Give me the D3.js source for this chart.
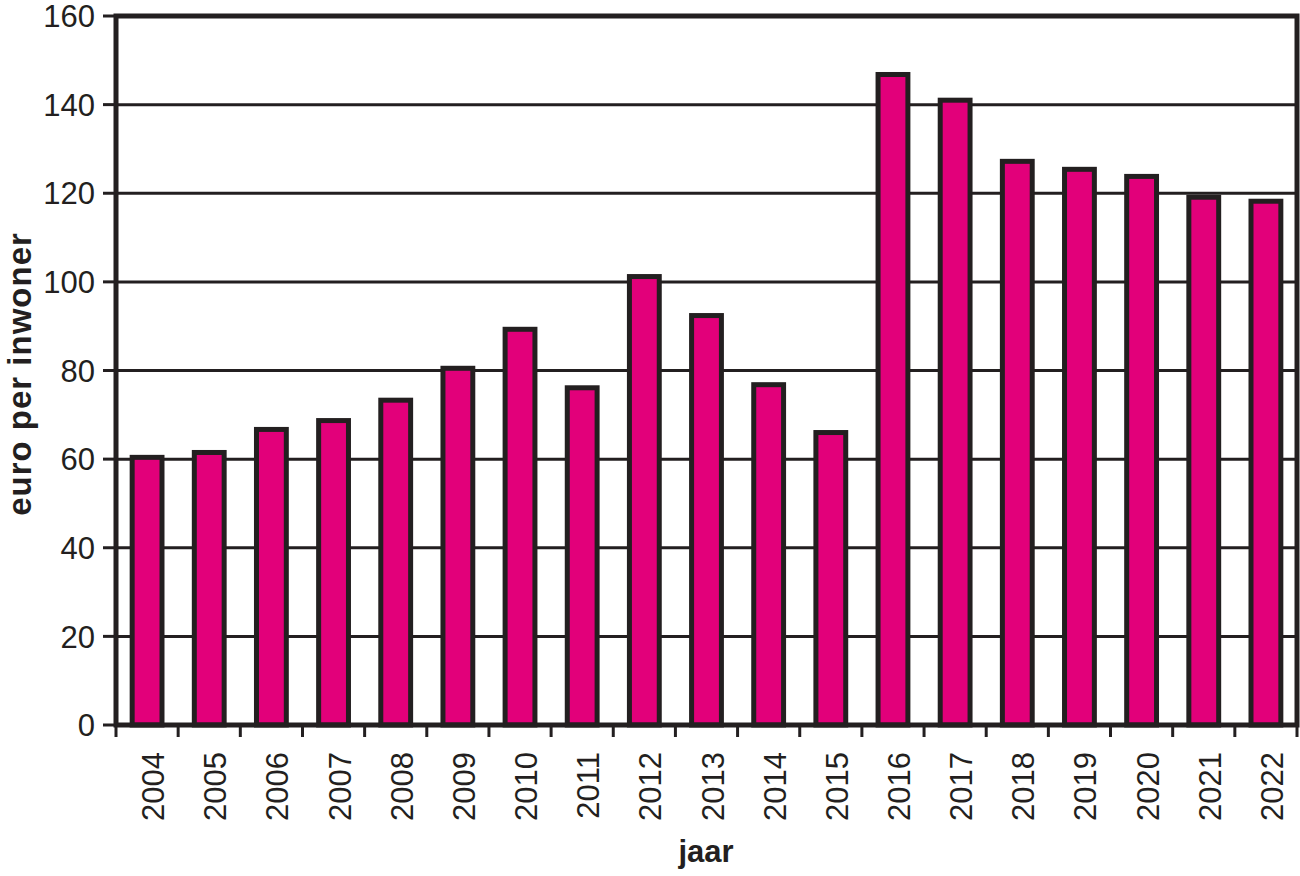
<!DOCTYPE html>
<html>
<head>
<meta charset="utf-8">
<script src="https://cdn.jsdelivr.net/npm/d3@7"></script>
<style>
  html, body { margin: 0; padding: 0; background: #fff; }
  svg { display: block; }
  text { font-family: "Liberation Sans", Arial, Helvetica, sans-serif; fill: #231f20; }
</style>
</head>
<body>
<svg id="chart" width="1300" height="876"></svg>
<script>
const years = ["2004","2005","2006","2007","2008","2009","2010","2011","2012","2013","2014","2015","2016","2017","2018","2019","2020","2021","2022"];
const values = [60.4, 61.5, 66.7, 68.7, 73.3, 80.5, 89.3, 76.1, 101.2, 92.4, 76.8, 66.0, 146.8, 141.0, 127.2, 125.4, 123.8, 119.1, 118.2];
const yTicks = [0, 20, 40, 60, 80, 100, 120, 140, 160];
const xTitle = "jaar";
const yTitle = "euro per inwoner";

const ink = "#231f20";
const barFill = "#e2007a";
const L = 116, R = 1297, T = 16, B = 725;

const svg = d3.select("#chart");

const x = d3.scaleBand().domain(years).range([L, R]).paddingInner(0.52).paddingOuter(0.26);
const y = d3.scaleLinear().domain([0, 160]).range([B, T]);

// gridlines
svg.append("g").selectAll("line").data(yTicks.filter(t => t > 0 && t < 160)).join("line")
  .attr("x1", L).attr("x2", R).attr("y1", d => y(d)).attr("y2", d => y(d))
  .attr("stroke", ink).attr("stroke-width", 3);

// y tick marks
svg.append("g").selectAll("line").data(yTicks).join("line")
  .attr("x1", L - 13).attr("x2", L).attr("y1", d => y(d)).attr("y2", d => y(d))
  .attr("stroke", ink).attr("stroke-width", 3);

// y tick labels
svg.append("g").selectAll("text").data(yTicks).join("text")
  .attr("x", L - 21).attr("y", d => y(d)).attr("dy", "0.36em")
  .attr("text-anchor", "end").attr("font-size", 31)
  .text(d => d);

// bars
svg.append("g").selectAll("rect").data(years).join("rect")
  .attr("x", d => x(d)).attr("width", x.bandwidth())
  .attr("y", (d, i) => y(values[i])).attr("height", (d, i) => y(0) - y(values[i]))
  .attr("fill", barFill).attr("stroke", ink).attr("stroke-width", 5);

// frame
svg.append("rect").attr("x", L).attr("y", T).attr("width", R - L).attr("height", B - T)
  .attr("fill", "none").attr("stroke", ink).attr("stroke-width", 5);

// x tick marks at band boundaries
const step = x.step();
const bounds = d3.range(years.length + 1).map(i => L + i * step);
svg.append("g").selectAll("line").data(bounds).join("line")
  .attr("x1", d => d).attr("x2", d => d).attr("y1", B).attr("y2", B + 12)
  .attr("stroke", ink).attr("stroke-width", 3);

// x tick labels (rotated)
svg.append("g").selectAll("text").data(years).join("text")
  .attr("transform", d => `translate(${x(d) + x.bandwidth() / 2 + 17},${B + 27}) rotate(-90)`)
  .attr("text-anchor", "end").attr("font-size", 31)
  .text(d => d);

// axis titles
svg.append("text").attr("x", 706).attr("y", 862)
  .attr("text-anchor", "middle").attr("font-size", 31).attr("font-weight", "bold")
  .text(xTitle);

svg.append("text").attr("transform", `translate(31,374) rotate(-90)`)
  .attr("text-anchor", "middle").attr("font-size", 33).attr("font-weight", "bold")
  .attr("letter-spacing", 1)
  .text(yTitle);
</script>
</body>
</html>
